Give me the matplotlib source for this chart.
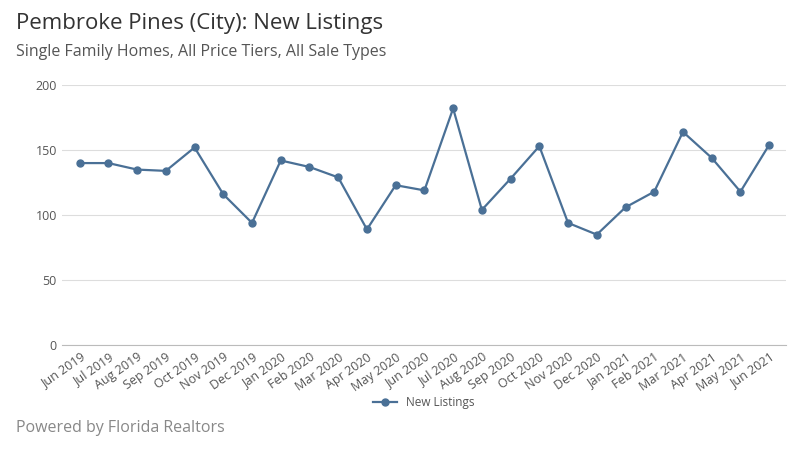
import matplotlib
matplotlib.use('Agg')
import matplotlib.pyplot as plt

months = ['Jun 2019', 'Jul 2019', 'Aug 2019', 'Sep 2019', 'Oct 2019', 'Nov 2019', 'Dec 2019',
          'Jan 2020', 'Feb 2020', 'Mar 2020', 'Apr 2020', 'May 2020', 'Jun 2020', 'Jul 2020',
          'Aug 2020', 'Sep 2020', 'Oct 2020', 'Nov 2020', 'Dec 2020', 'Jan 2021', 'Feb 2021',
          'Mar 2021', 'Apr 2021', 'May 2021', 'Jun 2021']
new_listings = [140, 140, 135, 134, 152, 116, 94, 142, 137, 129, 89, 123, 119, 182,
                104, 128, 153, 94, 85, 106, 118, 164, 144, 118, 154]
y_ticks = [0, 50, 100, 150, 200]

plt.rcParams['font.family'] = ['Open Sans', 'DejaVu Sans']
line_color = '#4a7096'
text_color = '#555555'

fig = plt.figure(figsize=(8, 4.5), dpi=100)
ax = fig.add_axes([0.078, 0.233, 0.905, 0.578])

x = list(range(len(months)))
ax.plot(x, new_listings, color=line_color, lw=1.6, marker='o', ms=5, label='New Listings')

ax.set_xlim(-0.6, len(months) - 0.4)
ax.set_ylim(0, 200)
ax.set_yticks(y_ticks)
ax.set_xticks(x)
ax.set_xticklabels(months, rotation=35, ha='right', rotation_mode='anchor')
ax.tick_params(axis='both', length=0, labelsize=9, colors=text_color, pad=4)
ax.grid(axis='y', color='#dddddd', lw=0.8)
ax.set_axisbelow(True)
for side in ['top', 'right', 'left']:
    ax.spines[side].set_visible(False)
ax.spines['bottom'].set_color('#bbbbbb')

fig.text(0.02, 0.935, 'Pembroke Pines (City): New Listings', fontsize=16, color='#333333')
fig.text(0.02, 0.875, 'Single Family Homes, All Price Tiers, All Sale Types', fontsize=11.5, color=text_color)
fig.text(0.02, 0.04, 'Powered by Florida Realtors', fontsize=11.5, color='#888888')

fig.legend(loc='center', bbox_to_anchor=(0.53, 0.105), frameon=False, fontsize=8.5,
           labelcolor=text_color, handlelength=2)

fig.savefig('out.png', dpi=100)
